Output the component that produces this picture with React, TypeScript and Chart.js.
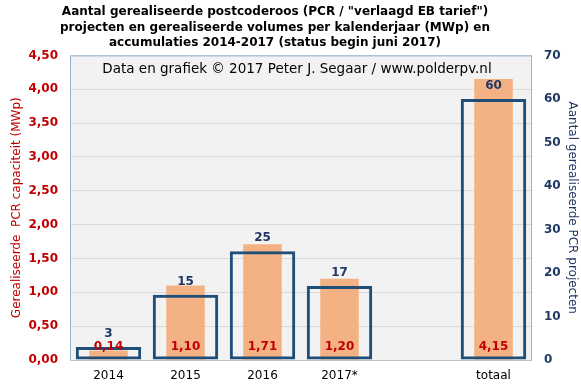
import React, { useEffect, useRef } from 'react';
import { Chart, registerables } from 'chart.js';

Chart.register(...registerables);

const categories = ['2014', '2015', '2016', '2017*', '', 'totaal'];
const capacityMWp = [0.14, 1.10, 1.71, 1.20, null, 4.15];
const projectCount = [3, 15, 25, 17, null, 60];
const titleLines = [
  'Aantal gerealiseerde postcoderoos (PCR / "verlaagd EB tarief")',
  'projecten en gerealiseerde volumes per kalenderjaar (MWp) en',
  'accumulaties 2014-2017 (status begin juni 2017)',
];
const creditText = 'Data en grafiek \u00A9 2017 Peter J. Segaar / www.polderpv.nl';
const leftAxisTitle = 'Gerealiseerde  PCR capaciteit (MWp)';
const rightAxisTitle = 'Aantal gerealiseerde PCR projecten';

const FONT = "'DejaVu Sans', Verdana, sans-serif";
const RED = '#C00000';
const NAVY = '#1F3864';
const BOX = '#1F4E79';
const ORANGE = '#F4B183';
const TITLE_SIZE = 12;
const TITLE_LH = 1.4;
const TITLE_PAD_TOP = 2;

const fmt = (v: number) => v.toFixed(2).replace('.', ',');

const decorPlugin = {
  id: 'decor',
  beforeDraw(chart: any) {
    const { ctx, chartArea: a } = chart;
    ctx.save();
    ctx.fillStyle = '#F2F2F2';
    ctx.fillRect(a.left, a.top, a.right - a.left, a.bottom - a.top);
    ctx.restore();
  },
  beforeDatasetsDraw(chart: any) {
    const { ctx, chartArea: a } = chart;
    ctx.save();
    ctx.strokeStyle = '#95B3D7';
    ctx.lineWidth = 1;
    ctx.strokeRect(a.left + 0.5, a.top + 0.5, a.right - a.left - 1, a.bottom - a.top);
    ctx.strokeStyle = '#BFBFBF';
    ctx.beginPath();
    ctx.moveTo(a.left, a.bottom + 0.5);
    ctx.lineTo(a.right, a.bottom + 0.5);
    ctx.stroke();
    ctx.fillStyle = '#000';
    ctx.font = `13.5px ${FONT}`;
    ctx.textAlign = 'center';
    ctx.textBaseline = 'middle';
    ctx.fillText(creditText, (a.left + a.right) / 2 - 4, a.top + 14);
    ctx.restore();
  },
  afterDatasetsDraw(chart: any) {
    const { ctx } = chart;
    ctx.save();
    ctx.font = `bold 12px ${FONT}`;
    ctx.textAlign = 'center';
    ctx.textBaseline = 'middle';
    chart.data.datasets.forEach((ds: any, di: number) => {
      const meta = chart.getDatasetMeta(di);
      meta.data.forEach((el: any, i: number) => {
        const v = ds.data[i];
        if (v === null || v === undefined) return;
        if (ds.label === 'capaciteit') {
          ctx.fillStyle = RED;
          ctx.fillText(fmt(v), el.x, el.base - 13);
        } else {
          ctx.fillStyle = NAVY;
          ctx.fillText(String(v), el.x, el.y - 13);
        }
      });
    });
    ctx.restore();
  },
  afterDraw(chart: any) {
    const { ctx, chartArea: a } = chart;
    const tb = chart.titleBlock;
    const top = tb ? tb.top : 0;
    const lh = TITLE_SIZE * TITLE_LH;
    ctx.save();
    ctx.fillStyle = '#000';
    ctx.font = `bold ${TITLE_SIZE}px ${FONT}`;
    ctx.textAlign = 'center';
    ctx.textBaseline = 'middle';
    const cx = (a.left + a.right) / 2 - 26;
    titleLines.forEach((line, i) => {
      ctx.fillText(line, cx, top + TITLE_PAD_TOP + lh * (i + 0.5) + (i === 2 ? -1 : 1));
    });
    ctx.restore();
  },
};

export default function App() {
  const ref = useRef<HTMLCanvasElement>(null);
  useEffect(() => {
    const chart = new Chart(ref.current!, {
      type: 'bar',
      data: {
        labels: categories,
        datasets: [
          {
            label: 'capaciteit',
            data: capacityMWp,
            yAxisID: 'y',
            backgroundColor: ORANGE,
            borderWidth: 0,
            grouped: false,
            categoryPercentage: 1,
            barPercentage: 0.5,
            order: 1,
          } as any,
          {
            label: 'projecten',
            data: projectCount,
            yAxisID: 'y1',
            backgroundColor: 'rgba(0,0,0,0)',
            borderColor: BOX,
            borderWidth: 3,
            borderSkipped: false,
            grouped: false,
            categoryPercentage: 1,
            barPercentage: 0.85,
            order: 0,
          } as any,
        ],
      },
      options: {
        responsive: false,
        animation: false,
        layout: { padding: { left: 0, right: 0, top: 0, bottom: 0 } },
        plugins: {
          legend: { display: false },
          tooltip: { enabled: false },
          title: {
            display: true,
            text: titleLines,
            color: 'rgba(0,0,0,0)',
            font: { family: FONT, size: TITLE_SIZE, weight: 'bold', lineHeight: TITLE_LH },
            padding: { top: TITLE_PAD_TOP, bottom: 3 },
          },
        },
        scales: {
          x: {
            grid: { display: false, drawTicks: false },
            border: { display: false },
            ticks: { color: '#000', font: { family: FONT, size: 12 }, padding: 9 },
            afterFit: (s: any) => { s.height = 29; },
          },
          y: {
            position: 'left',
            min: 0,
            max: 4.5,
            ticks: {
              stepSize: 0.5,
              color: RED,
              font: { family: FONT, size: 12, weight: 'bold' },
              padding: 12,
              callback: (v: any) => fmt(Number(v)),
            },
            grid: { color: '#D9D9D9', drawTicks: false },
            border: { display: false },
            title: {
              display: true,
              text: leftAxisTitle,
              color: RED,
              font: { family: FONT, size: 12 },
              padding: { top: 10, bottom: 0 },
            },
            afterFit: (s: any) => { s.width = 70; },
          },
          y1: {
            position: 'right',
            min: 0,
            max: 70,
            ticks: {
              stepSize: 10,
              color: NAVY,
              font: { family: FONT, size: 12, weight: 'bold' },
              padding: 12,
            },
            grid: { drawOnChartArea: false, drawTicks: false },
            border: { display: false },
            title: {
              display: true,
              text: rightAxisTitle,
              color: NAVY,
              font: { family: FONT, size: 12 },
              padding: { top: 2, bottom: 0 },
            },
            afterFit: (s: any) => { s.width = 49; },
          },
        },
      } as any,
      plugins: [decorPlugin],
    });
    return () => chart.destroy();
  }, []);
  return (
    <div style={{ position: 'absolute', left: 0, top: 0, width: 581, height: 389, background: '#fff' }}>
      <canvas ref={ref} width={581} height={389} style={{ width: 581, height: 389 }} />
    </div>
  );
}
